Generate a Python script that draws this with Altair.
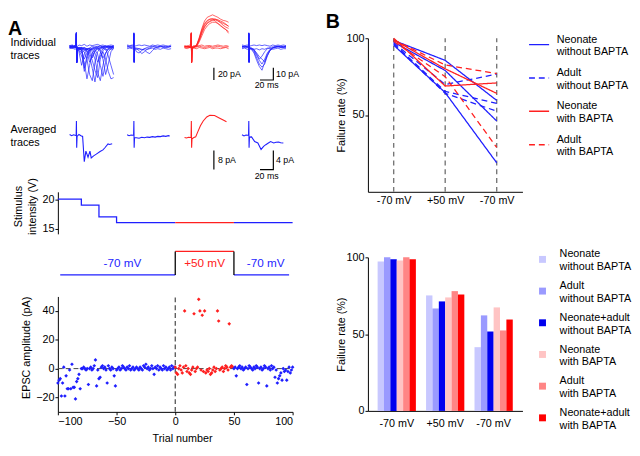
import altair as alt
import pandas as pd

BLUE = "#1f1fff"
RED = "#ff2020"
GRAY = "#777777"
FONT = "Liberation Sans"

# ---------------- Panel A: example traces ----------------
TRACE_GROUPS = ["g1", "g2", "g3", "g4"]
T_GRID = [0, 4, 8, 9.8, 10.2, 10.6, 11.2, 14, 18, 22, 26, 30, 34, 38, 42, 46, 50, 54, 58, 62, 66]

IND_G1 = [
    [1, -1, 2, 0, 23, -26, -3, -8, -30, -12, -4, -2, 1, -1, 0, 2, -1, 0, 1, -2, 0],
    [-2, 1, 0, 1, 21, -24, -2, -3, -5, -40, -20, -6, -2, 0, 1, -1, 0, 2, -1, 0, 1],
    [0, 2, -1, 0, 22, -25, -4, -6, -15, -25, -52, -30, -10, -4, -1, 0, 1, -1, 0, 1, -1],
    [2, 0, 1, -1, 23, -26, -1, -2, -4, -8, -20, -45, -55, -25, -8, -2, 0, 1, -1, 0, 2],
    [-1, -2, 1, 0, 20, -23, -3, -2, -1, -3, -6, -15, -35, -57, -28, -10, -3, 0, 1, -1, 0],
    [1, 0, -2, 1, 22, -25, -2, -4, -10, -6, -3, -10, -22, -38, -50, -20, -6, -2, 0, 1, -1],
    [0, 1, 0, -1, 21, -26, -3, -1, -2, -5, -4, -3, -8, -20, -42, -55, -30, -10, -3, 0, 1],
    [-1, 0, 2, 0, 23, -24, -2, -3, -6, -20, -10, -4, -2, -5, -12, -30, -48, -25, -8, -3, -1],
    [2, -1, 0, 1, 22, -25, -1, -2, -3, -4, -8, -25, -15, -6, -3, -8, -20, -45, -28, -8, -2],
    [0, -2, 1, 0, 21, -26, -4, -5, -3, -2, -4, -6, -4, -10, -25, -15, -8, -20, -40, -52, -50],
    [1, 2, -1, 0, 23, -25, -2, -2, -1, -35, -15, -5, -3, -2, -1, -5, -18, -10, -4, -2, 0],
    [-1, 1, 0, -1, 22, -24, -3, -4, -2, -1, -3, -2, -18, -8, -3, -2, -1, -3, -15, -30, -45],
    [2, 3, 1, 2, 22, -25, 0, 3, 2, 4, 1, 3, 2, 3, 4, 2, 3, 1, 2, 3, 2],
    [-3, -2, -4, -3, 21, -26, -4, -3, -5, -2, -4, -3, -5, -2, -3, -4, -2, -5, -3, -4, -3],
]
IND_G2 = [
    [1, -1, 0, 1, 22, -25, -2, -8, -10, -6, -3, -1, 0, 1, -1, 0, 1, -1, 0, 1, 0],
    [-1, 1, 2, 0, 21, -24, -3, -3, -6, -11, -8, -4, -2, 0, 1, -1, 0, 1, 0, -1, 1],
    [2, 0, -1, 1, 23, -26, -1, -2, -3, -4, -5, -9, -11, -6, -2, 0, 1, 0, -1, 0, 1],
    [3, 2, 3, 2, 22, -25, 1, 2, 3, 2, 3, 2, 1, 3, 2, 3, 2, 3, 2, 1, 3],
    [-3, -2, -3, -4, 21, -24, -3, -4, -3, -5, -3, -4, -3, -2, -4, -3, -4, -2, -3, -4, -3],
]
IND_G3 = [
    [0, 1, -1, 0, 22, -25, -2, -1, 2, 15, 30, 42, 48, 50, 52, 50, 48, 45, 43, 42, 40],
    [1, 0, 1, -1, 21, -24, -1, 0, 3, 12, 26, 36, 42, 45, 46, 45, 43, 40, 38, 36, 34],
    [-1, 1, 0, 1, 23, -26, -3, -1, 1, 10, 22, 32, 38, 41, 43, 44, 42, 39, 35, 32, 30],
    [0, -1, 1, 0, 22, -25, -2, 0, 2, 14, 28, 38, 43, 45, 45, 42, 38, 34, 31, 28, 25],
    [1, 0, -1, 0, 21, -24, -1, 1, 0, 8, 18, 28, 34, 38, 40, 40, 38, 35, 31, 28, 22],
    [0, 1, 0, -1, 22, -26, -2, 0, 2, 11, 24, 33, 39, 42, 44, 45, 44, 42, 40, 37, 33],
    [2, 1, 3, 2, 21, -24, 0, 2, 1, 2, 3, 1, 2, 2, 1, 2, 3, 2, 1, 2, 1],
    [-2, -3, -1, -2, 22, -25, -3, -2, -3, -1, -2, -3, -2, -1, -3, -2, -2, -3, -2, -1, -3],
    [0, 0, -1, 1, 23, -24, -1, -1, 0, 1, 0, -1, 0, 1, -1, 0, 1, 0, -1, 0, 0],
]
IND_G4 = [
    [1, 0, -1, 0, 22, -25, -2, -4, -10, -22, -32, -38, -25, -12, -5, -2, 0, 1, 0, -1, 1],
    [0, -1, 1, 0, 21, -24, -3, -3, -8, -18, -28, -33, -28, -15, -6, -2, -1, 0, 1, 0, -1],
    [-1, 1, 0, 1, 23, -26, -1, -2, -6, -14, -22, -28, -20, -10, -4, -1, 0, 1, -1, 0, 1],
    [1, 0, 1, -1, 22, -25, -2, -3, -5, -10, -16, -20, -24, -14, -6, -2, 1, 0, -1, 1, 0],
    [0, 1, -1, 0, 21, -24, -2, -2, -4, -12, -20, -15, -8, -3, -1, 0, -1, 1, 0, -1, 0],
    [3, 2, 3, 2, 22, -25, 1, 2, 3, 2, 3, 2, 3, 2, 1, 3, 2, 3, 2, 3, 2],
    [-3, -2, -4, -3, 21, -24, -4, -3, -4, -3, -5, -3, -4, -2, -3, -4, -3, -2, -4, -3, -3],
]

AVG_G1_T = [0, 3, 6, 9, 9.8, 10.2, 10.6, 11.2, 14, 17, 19.5, 22, 24.4, 27.6, 30.5, 32.4, 36, 40, 45.7, 50, 52.9, 57.6, 60, 63.8]
AVG_G1_V = [0.3, -0.2, 0.2, -0.1, 0, 6, -5.3, -0.5, 0.3, -0.2, -0.5, -11.2, -6.7, -9.3, -6.7, -9.6, -8.7, -8.0, -6.9, -6.2, -5.3, -3.7, -3.9, -3.6]
AVG_G2_T = [0, 3, 6, 9, 9.8, 10.2, 10.6, 11.2, 14, 18, 22, 26, 30, 34, 38, 42, 46, 50, 54, 58, 62, 64]
AVG_G2_V = [0.2, -0.2, 0.1, 0, 0, 6, -5.3, -1, -1.1, -1.3, -0.9, -1.1, -0.8, -0.9, -0.6, -0.8, -0.5, -0.6, -0.3, -0.5, -0.2, -0.3]
AVG_G3_T = [0, 3, 6, 9, 9.8, 10.2, 10.6, 11.2, 14, 16.7, 20, 23.8, 28, 33.3, 38, 45, 52, 58, 62.9]
AVG_G3_V = [-1, -1.2, -0.9, -1, -1, 6, -5.3, -1.5, -1, -0.7, 1.5, 4, 6, 7.7, 8.4, 8.3, 7.3, 6.4, 5.7]
AVG_G4_T = [0, 3, 6, 9, 9.8, 10.2, 10.6, 11.2, 14.3, 19, 23.8, 28.6, 32.4, 35.7, 39, 42.9, 47.6, 51, 54.8, 58, 62]
AVG_G4_V = [0.2, -0.3, 0.1, 0, 0, 6, -5.3, -0.8, -0.7, -2.7, -3.3, -6, -4.7, -4, -3.4, -2.7, -3.3, -3.0, -2.9, -3.2, -3.3]

# scale bars (group, time ms, value) and their labels
IND_BAR_V = ["g3", [44, 44], [-33.9, -53.9]]
IND_BAR_L = ["g4", [27, 47, 47], [-53.9, -53.9, -33.9]]
IND_BAR_TEXT = [("g3", 50, -43.5, "20 pA", "left"), ("g4", 51, -43.5, "10 pA", "left"),
                ("g4", 37, -61.5, "20 ms", "center")]
AVG_BAR_V = ["g3", [44, 44], [-6.5, -14.5]]
AVG_BAR_L = ["g4", [27, 47, 47], [-14.5, -14.5, -6.5]]
AVG_BAR_TEXT = [("g3", 50, -10.5, "8 pA", "left"), ("g4", 51, -10.5, "4 pA", "left"),
                ("g4", 37, -17.2, "20 ms", "center")]

# ---------------- stimulus / holding ----------------
STIM_TRIAL = [-100, -80, -65, -50, 0, 0, 50, 50, 100]
STIM_V = [20, 19, 17, 16, 16, 16, 16, 16, 16]
STIM_SEG = ["s1", "s1", "s1", "s1", "s1", "s2", "s2", "s3", "s3"]
STIM_COL = [BLUE] * 5 + [RED] * 2 + [BLUE] * 2

HOLD_TRIAL = [-98, 0, 0, 50, 50, 97]
HOLD_MV = [-70, -70, 50, 50, -70, -70]
HOLD_SEG = ["h1", "h1", "h2", "h2", "h3", "h3"]
HOLD_COL = [BLUE, BLUE, RED, RED, BLUE, BLUE]
HOLD_STEP_TRIAL = [0, 50]
HOLD_LABELS = ["-70 mV", "+50 mV", "-70 mV"]
HOLD_LABEL_TRIAL = [-45, 25, 77]
HOLD_LABEL_COL = [BLUE, RED, BLUE]

# ---------------- EPSC amplitudes ----------------
PRE_TRIALS = list(range(-100, 0))
PRE_AMP = [-10, -8, -7, -19, -10, 1, -19, -5, -14, -14, -1, -14, 3, -13, -13, -21, -9, -7, -4, -14,
           0, 0, 1, 0, -1, 0, -11, 0, 1, -1, 0, 2, 6, -12, -1, -7, -6, 1, 2, 0,
           1, -1, -10, 2, 0, -1, 1, 0, -5, -12, -1, 0, 1, -1, 0, 2, 1, 0, -1, 1,
           0, 2, -1, 0, 1, -1, 0, 1, 0, -1, 1, 0, -1, 2, 1, 3, 0, 1, -1, 0,
           2, 0, -4, 1, 0, 2, -1, 1, 0, -1, 2, 0, 1, -1, 0, 1, -1, 2, 0, 1]
RED_TRIALS = list(range(0, 50))
RED_AMP = [1, -3, -4, 0, 2, -1, -3, 1, 40, 2, -2, 0, -3, -4, -1, 1, 38, -2, 0, 1,
           48, 40, -1, 37, -2, 40, -3, -1, -2, 0, -4, -3, -1, 1, -2, 0, 40, 33, -1, 0,
           1, -2, 0, 2, 1, -1, 31, 1, 2, 1]
POST_TRIALS = list(range(50, 101))
POST_AMP = [0, 1, -5, 0, 1, 2, 0, 1, -1, 0, 1, -11, 0, 2, 1, 0, -1, 1, 0, 2,
            1, -10, 0, 1, -1, 0, 2, 1, -12, 0, 1, -1, 2, 0, 1, -6, -1, -10, -7, -5,
            -3, -8, 0, -2, -1, -8, -2, 1, -3, -1, 1]

# ---------------- Panel B ----------------
CONDS = ["pre", "hold", "post"]
COND_LABEL_EXPR = "datum.value == 'hold' ? '+50 mV' : '-70 mV'"
LINE_GROUPS = ["Neonate|without BAPTA", "Adult|without BAPTA", "Neonate|with BAPTA", "Adult|with BAPTA"]
LINES = [
    ("a", 0, [98.6, 85.6, 59.5]), ("b", 0, [97.5, 79.0, 46.1]), ("c", 0, [95.5, 64.6, 18.9]),
    ("d", 1, [97.0, 69.9, 76.6]), ("e", 1, [96.5, 65.4, 57.6]), ("f", 1, [96.0, 64.1, 52.5]),
    ("g", 2, [100.0, 68.9, 70.9]), ("h", 2, [99.0, 80.1, 64.1]),
    ("i", 3, [99.0, 82.6, 77.0]), ("j", 3, [98.0, 75.0, 28.9]),
]
BAR_SERIES = ["Neonate|without BAPTA", "Adult|without BAPTA", "Neonate+adult|without BAPTA",
              "Neonate|with BAPTA ", "Adult|with BAPTA ", "Neonate+adult|with BAPTA"]
BAR_COLORS = ["#c8c8ff", "#9a9aff", "#0000ee", "#ffc4c4", "#ff8585", "#ff0000"]
BAR_PRE = [97.3, 100.0, 98.8, 98.0, 100.0, 98.8]
BAR_HOLD = [75.2, 66.7, 71.3, 73.9, 78.0, 75.8]
BAR_POST = [41.5, 62.2, 51.7, 67.4, 52.4, 59.5]


# ======================= build frames =======================
def trace_rows(groups, times_of, prefix):
    rows = []
    for g, traces in groups:
        col = RED if g == "g3" else BLUE
        for k, tr in enumerate(traces):
            ts, vs = times_of(tr)
            for t, v in zip(ts, vs):
                rows.append({"g": g, "tid": f"{prefix}{g}_{k}", "t": t, "v": v, "c": col})
    return pd.DataFrame(rows)


ind_df = trace_rows([("g1", IND_G1), ("g2", IND_G2), ("g3", IND_G3), ("g4", IND_G4)],
                    lambda tr: (T_GRID, tr), "i")
avg_df = trace_rows([("g1", [(AVG_G1_T, AVG_G1_V)]), ("g2", [(AVG_G2_T, AVG_G2_V)]),
                     ("g3", [(AVG_G3_T, AVG_G3_V)]), ("g4", [(AVG_G4_T, AVG_G4_V)])],
                    lambda tr: tr, "a")


def bar_frame(bv, bl):
    rows = []
    for i, (t, v) in enumerate(zip(bv[1], bv[2])):
        rows.append({"g": bv[0], "bid": "v", "i": i, "t": t, "v": v})
    for i, (t, v) in enumerate(zip(bl[1], bl[2])):
        rows.append({"g": bl[0], "bid": "l", "i": i, "t": t, "v": v})
    return pd.DataFrame(rows)


def text_frame(items):
    return pd.DataFrame([{"g": g, "t": t, "v": v, "label": s, "al": a} for g, t, v, s, a in items])


def trace_x():
    return alt.X("g:N", bandPosition=0, axis=None,
                 scale=alt.Scale(domain=TRACE_GROUPS, range=[12, 247], paddingInner=0, paddingOuter=0))


def trace_xo():
    return alt.XOffset("t:Q", scale=alt.Scale(domain=[0, 66], range=[0, 45], nice=False, zero=False))


def trace_panel(df, bars, texts, ydom, height, title_lines, title_y, sw, title=None):
    yax = alt.Axis(title=title_lines, titleAngle=0, titleAlign="left", titleBaseline="top",
                   titleX=-49, titleY=title_y, titleLineHeight=13.5, domain=False, ticks=False,
                   labels=False, grid=False, titleFontWeight="normal", titleFontSize=11)
    y = alt.Y("v:Q", scale=alt.Scale(domain=ydom, nice=False, zero=False), axis=yax)
    lines = alt.Chart(df).mark_line(strokeWidth=sw).encode(
        x=trace_x(), xOffset=trace_xo(), y=y,
        color=alt.Color("c:N", scale=None), detail="tid:N", order="t:Q")
    sb = alt.Chart(bar_frame(*bars)).mark_line(color="black", strokeWidth=1.2).encode(
        x=trace_x(), xOffset=trace_xo(), y=y, detail="bid:N", order="i:Q")
    tl = alt.Chart(text_frame(texts[0:2])).mark_text(align="left", baseline="middle", fontSize=9).encode(
        x=trace_x(), xOffset=trace_xo(), y=y, text="label:N")
    tc = alt.Chart(text_frame(texts[2:])).mark_text(align="center", baseline="middle", fontSize=9).encode(
        x=trace_x(), xOffset=trace_xo(), y=y, text="label:N")
    props = dict(width=240, height=height)
    if title is not None:
        props["title"] = title
    return alt.layer(lines, sb, tl, tc).properties(**props)


title_A = alt.TitleParams("A", anchor="start", frame="group", fontSize=20, fontWeight="bold",
                          baseline="top", dx=-51, offset=0, dy=26)
L1 = trace_panel(ind_df, (IND_BAR_V, IND_BAR_L), IND_BAR_TEXT, [-87.8, 13.96], 64,
                 ["Individual", "traces"], -2, 0.7, title_A)
L2 = trace_panel(avg_df, (AVG_BAR_V, AVG_BAR_L), AVG_BAR_TEXT, [-23.9, 14.5], 93,
                 ["Averaged", "traces"], 23, 1.1)

trial_x = alt.X("trial:Q", scale=alt.Scale(domain=[-100, 100], nice=False, zero=False), axis=None)

stim_df = pd.DataFrame({"trial": STIM_TRIAL, "v": STIM_V, "seg": STIM_SEG, "c": STIM_COL})
L3 = alt.Chart(stim_df).mark_line(interpolate="step-after", strokeWidth=1.3).encode(
    x=trial_x,
    y=alt.Y("v:Q", scale=alt.Scale(domain=[14.1, 21.25], nice=False, zero=False),
            axis=alt.Axis(values=[15, 20], title=["Stimulus", "intensity (V)"], titleY=14.6,
                          titlePadding=5, titleLineHeight=14, tickSize=3, labelPadding=1,
                          titleFontWeight="normal", grid=False)),
    color=alt.Color("c:N", scale=None), detail="seg:N", order="trial:Q",
).properties(width=240, height=43)

hold_df = pd.DataFrame({"trial": HOLD_TRIAL, "mv": HOLD_MV, "seg": HOLD_SEG, "c": HOLD_COL})
hold_y = alt.Y("mv:Q", scale=alt.Scale(domain=[-180, 140], nice=False, zero=False),
               axis=alt.Axis(title=["Holding", "potential"], titleAngle=0, titleAlign="left",
                             titleBaseline="top", titleX=-49, titleY=21, titleLineHeight=12.5,
                             domain=False, ticks=False, labels=False, grid=False,
                             titleFontWeight="normal"))
hold_lines = alt.Chart(hold_df).mark_line(strokeWidth=1.3).encode(
    x=trial_x, y=hold_y, color=alt.Color("c:N", scale=None), detail="seg:N", order="trial:Q")
hold_steps = alt.Chart(pd.DataFrame({"trial": HOLD_STEP_TRIAL, "lo": [-70, -70], "hi": [50, 50]})).mark_rule(
    color="black", strokeWidth=1.3).encode(x=trial_x, y=alt.Y("lo:Q", scale=alt.Scale(domain=[-180, 140], nice=False, zero=False), axis=None), y2="hi:Q")
hold_text = alt.Chart(pd.DataFrame({"trial": HOLD_LABEL_TRIAL, "mv": [-10] * 3, "label": HOLD_LABELS,
                                    "c": HOLD_LABEL_COL})).mark_text(fontSize=12, baseline="middle").encode(
    x=trial_x, y=hold_y, text="label:N", color=alt.Color("c:N", scale=None))
L4 = alt.layer(hold_lines, hold_steps, hold_text).properties(width=240, height=64)

sc_df = pd.concat([
    pd.DataFrame({"trial": PRE_TRIALS, "amp": PRE_AMP, "c": BLUE}),
    pd.DataFrame({"trial": RED_TRIALS, "amp": RED_AMP, "c": RED}),
    pd.DataFrame({"trial": POST_TRIALS, "amp": POST_AMP, "c": BLUE}),
])
sc_x = alt.X("trial:Q", scale=alt.Scale(domain=[-100, 100], nice=False, zero=False),
             axis=alt.Axis(values=[-100, -50, 0, 50, 100], title="Trial number", tickSize=3,
                           labelPadding=1, titlePadding=6, titleX=127, titleFontWeight="normal", grid=False))
sc_y = alt.Y("amp:Q", scale=alt.Scale(domain=[-30, 50], nice=False, zero=False),
             axis=alt.Axis(values=[-20, 0, 20, 40], title="EPSC amplitude (pA)", tickSize=3,
                           labelPadding=1, titleY=52, titleFontWeight="normal", grid=False))
zero_h = alt.Chart(pd.DataFrame({"trial": [-100], "t2": [100], "amp": [0]})).mark_rule(
    color="#444444", strokeDash=[5, 3], strokeWidth=1).encode(x=sc_x, x2="t2:Q", y=sc_y)
zero_v = alt.Chart(pd.DataFrame({"trial": [0], "amp": [-30], "a2": [50]})).mark_rule(
    color="#444444", strokeDash=[5, 3], strokeWidth=1.2).encode(x=sc_x, y=sc_y, y2="a2:Q")
pts = alt.Chart(sc_df).mark_point(shape="diamond", filled=True, size=14, opacity=1).encode(
    x=sc_x, y=sc_y, color=alt.Color("c:N", scale=None))
L5 = alt.layer(zero_h, zero_v, pts).properties(width=240, height=118)

left = alt.vconcat(L1, L2, L3, L4, L5, spacing=0, bounds="flush").resolve_scale(color="independent")

# ---------------- right column ----------------
line_rows = []
for lid, gi, vals in LINES:
    for c, v in zip(CONDS, vals):
        line_rows.append({"lid": lid, "grp": LINE_GROUPS[gi], "cond": c, "val": v})
line_df = pd.DataFrame(line_rows)

r_x_pt = alt.X("cond:N", scale=alt.Scale(type="point", domain=CONDS, padding=0.5),
               axis=alt.Axis(labelExpr=COND_LABEL_EXPR, ticks=False, title=None, labelAngle=0,
                             labelPadding=3, grid=False))
r1_y = alt.Y("val:Q", scale=alt.Scale(domain=[0, 100], nice=False),
             axis=alt.Axis(values=[50, 100], title="Failure rate (%)", tickSize=3, labelPadding=1,
                           titlePadding=0, titleFontWeight="normal", grid=False))
leg1 = alt.Legend(title=None, orient="none", legendX=164, legendY=-4.5, padding=0,
                  symbolType="stroke", symbolSize=420, symbolStrokeWidth=1.5, labelOffset=7,
                  rowPadding=10.1, labelFontSize=11, labelBaseline="bottom",
                  labelExpr="split(datum.label, '|')")
guide = alt.Chart(pd.DataFrame({"cond": CONDS, "val": [0, 0, 0], "hi": [100, 100, 100]})).mark_rule(
    color=GRAY, strokeDash=[5, 4], strokeWidth=1.4).encode(x=r_x_pt, y=r1_y, y2="hi:Q")
lines_r = alt.Chart(line_df).mark_line(strokeWidth=1.3).encode(
    x=r_x_pt, y=r1_y,
    color=alt.Color("grp:N", scale=alt.Scale(domain=LINE_GROUPS, range=[BLUE, BLUE, RED, RED]), legend=leg1),
    strokeDash=alt.StrokeDash("grp:N", scale=alt.Scale(domain=LINE_GROUPS, range=[[1, 0], [6, 4], [1, 0], [6, 4]]),
                              legend=leg1),
    detail="lid:N")
title_B = alt.TitleParams("B", anchor="start", frame="group", fontSize=20, fontWeight="bold",
                          baseline="top", dx=-43, offset=7.5, dy=7.5)
R1 = alt.layer(guide, lines_r).properties(width=158, height=157, title=title_B)

bar_rows = []
for c, vals in zip(CONDS, [BAR_PRE, BAR_HOLD, BAR_POST]):
    for s, v in zip(BAR_SERIES, vals):
        bar_rows.append({"cond": c, "ser": s, "val": v})
bar_df = pd.DataFrame(bar_rows)
leg2 = alt.Legend(title=None, orient="none", legendX=173, legendY=-3.4, padding=0,
                  symbolType="square", symbolSize=50, symbolStrokeWidth=0, labelOffset=12,
                  rowPadding=7.4, labelFontSize=11, labelBaseline="bottom",
                  labelExpr="split(trim(datum.label), '|')")
R2 = alt.Chart(bar_df).mark_bar().encode(
    x=alt.X("cond:N", scale=alt.Scale(domain=CONDS, paddingInner=0.21, paddingOuter=0.2),
            axis=alt.Axis(labelExpr=COND_LABEL_EXPR, ticks=False, title=None, labelAngle=0,
                          labelPadding=7, grid=False)),
    xOffset=alt.XOffset("ser:N", scale=alt.Scale(domain=BAR_SERIES, paddingInner=0, paddingOuter=0)),
    y=alt.Y("val:Q", scale=alt.Scale(domain=[0, 100], nice=False),
            axis=alt.Axis(values=[0, 50, 100], title="Failure rate (%)", tickSize=3, labelPadding=1,
                          titlePadding=0, titleFontWeight="normal", grid=False)),
    fill=alt.Fill("ser:N", scale=alt.Scale(domain=BAR_SERIES, range=BAR_COLORS), legend=leg2),
).properties(width=158, height=157)

right = alt.vconcat(R1, R2, spacing=67, bounds="flush").resolve_scale(
    color="independent", strokeDash="independent", fill="independent")

chart = alt.hconcat(left, right, spacing=27).resolve_scale(
    color="independent", strokeDash="independent", fill="independent"
).properties(
    padding={"left": 0, "top": 0, "right": 0, "bottom": 0}
).configure(font=FONT).configure_view(stroke=None).configure_axis(
    labelFontSize=11, titleFontSize=11, labelColor="black", titleColor="black",
    domainColor="black", tickColor="black", labelFont=FONT, titleFont=FONT
).configure_legend(labelFont=FONT, labelColor="black").configure_title(font=FONT, color="black")

chart.save("out.html", embed_options={"renderer": "svg", "actions": False})
